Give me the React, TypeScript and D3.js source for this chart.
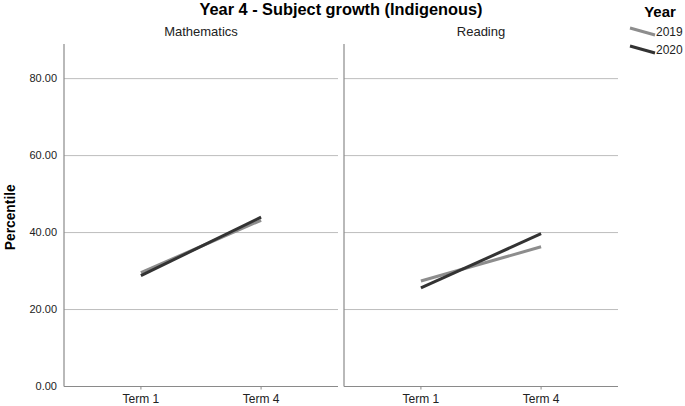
import * as d3 from 'd3';

const panels = ['Mathematics', 'Reading'];
const terms = ['Term 1', 'Term 4'];
const years = ['2019', '2020'];
// values per panel, per year: [Term 1, Term 4]
const math2019 = [29.6, 43.2];
const math2020 = [28.8, 44.0];
const reading2019 = [27.4, 36.3];
const reading2020 = [25.6, 39.7];
const yTicks = [0, 20, 40, 60, 80];

const seriesByPanel: Record<string, number[][]> = {
  Mathematics: [math2019, math2020],
  Reading: [reading2019, reading2020],
};

const yearColor: Record<string, string> = { '2019': '#8d8d8d', '2020': '#333333' };

export default function App() {
  const width = 685;
  const height = 406;
  const top = 44;
  const bottom = 386.5;
  const panelLeft = [64, 344];
  const panelWidth = 274;

  const yScale = d3.scaleLinear().domain([0, 89]).range([bottom, top]);
  const font = 'Liberation Sans, Arial, sans-serif';

  const line = (xs: d3.ScalePoint<string>) =>
    d3.line<number>()
      .x((_, i) => xs(terms[i])!)
      .y(d => yScale(d));

  return (
    <svg width={width} height={height} style={{ position: 'absolute', left: 0, top: 0 }} fontFamily={font}>
      <rect width={width} height={height} fill="#ffffff" />
      <text x={341} y={15} textAnchor="middle" fontSize={16} fontWeight="bold" fill="#000" textLength={283} lengthAdjust="spacingAndGlyphs">
        Year 4 - Subject growth (Indigenous)
      </text>

      {/* Y axis label */}
      <text transform={`translate(15,${(top + bottom) / 2 + 2}) rotate(-90)`} textAnchor="middle" fontSize={15} fontWeight="bold" fill="#000" textLength={66} lengthAdjust="spacingAndGlyphs">
        Percentile
      </text>

      {/* Y tick labels */}
      {yTicks.map(t => (
        <text key={t} x={57} y={yScale(t)} dy="0.35em" textAnchor="end" fontSize={11} fill="#222">
          {t.toFixed(2)}
        </text>
      ))}

      {panels.map((p, pi) => {
        const x0 = panelLeft[pi];
        const xs = d3.scalePoint<string>().domain(terms).range([x0, x0 + panelWidth]).padding(0.64);
        const gen = line(xs);
        return (
          <g key={p}>
            <text x={x0 + panelWidth / 2} y={36} textAnchor="middle" fontSize={13} fill="#222">{p}</text>
            {yTicks.filter(t => t > 0).map(t => (
              <line key={t} x1={x0} x2={x0 + panelWidth} y1={yScale(t)} y2={yScale(t)} stroke="#bdbdbd" strokeWidth={1} />
            ))}
            <line x1={x0} x2={x0} y1={top} y2={bottom} stroke="#8a8a8a" strokeWidth={1.2} />
            <line x1={x0} x2={x0 + panelWidth} y1={bottom} y2={bottom} stroke="#8a8a8a" strokeWidth={1.2} />
            {terms.map(t => (
              <g key={t}>
                <line x1={xs(t)} x2={xs(t)} y1={bottom} y2={bottom + 3} stroke="#8a8a8a" />
                <text x={xs(t)} y={bottom + 16} textAnchor="middle" fontSize={12} fill="#222">{t}</text>
              </g>
            ))}
            {seriesByPanel[p].map((vals, si) => (
              <path key={si} d={gen(vals)!} fill="none" stroke={yearColor[years[si]]} strokeWidth={3} />
            ))}
          </g>
        );
      })}

      {/* Legend */}
      <text x={660} y={17} textAnchor="middle" fontSize={15} fontWeight="bold" fill="#000">Year</text>
      {years.map((y, i) => (
        <g key={y} transform={`translate(0,${i * 18})`}>
          <line x1={630} x2={655} y1={28} y2={35} stroke={yearColor[y]} strokeWidth={3} />
          <text x={656} y={35} dy="0.1em" fontSize={12} fill="#222">{y}</text>
        </g>
      ))}
    </svg>
  );
}
